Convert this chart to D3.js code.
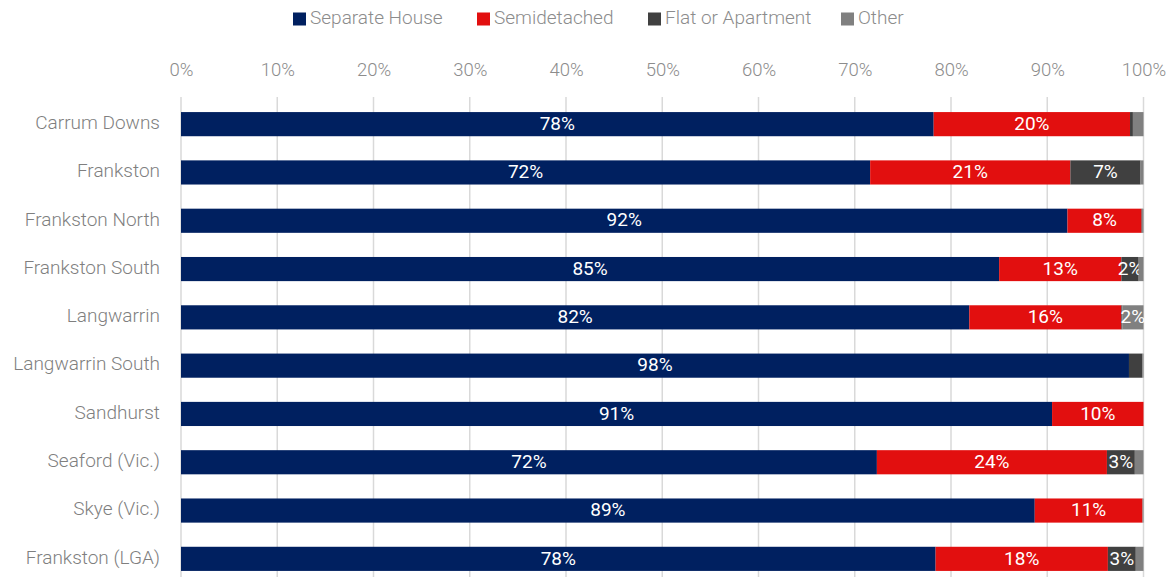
<!DOCTYPE html>
<html>
<head>
<meta charset="utf-8">
<script src="https://cdn.jsdelivr.net/npm/d3@7"></script>
<style>
  body { margin: 0; background: #fff; }
  text { font-family: Roboto, "Noto Sans", sans-serif; }
</style>
</head>
<body>
<div id="chart"></div>
<script>
// suburbs, top to bottom
var suburbs = ["Carrum Downs", "Frankston", "Frankston North", "Frankston South", "Langwarrin",
    "Langwarrin South", "Sandhurst", "Seaford (Vic.)", "Skye (Vic.)", "Frankston (LGA)"];

// share of dwellings, %
var separateHouse = [78.2, 71.6, 92.1, 85.0, 81.9, 98.49, 90.5, 72.3, 88.7, 78.4];
var semidetached  = [20.4, 20.8, 7.7, 12.7, 15.8, 0.0, 9.5, 23.9, 11.2, 17.9];
var flatApartment = [0.3, 7.3, 0.1, 1.8, 0.1, 1.4, 0.0, 2.9, 0.0, 2.9];
var other         = [1.1, 0.3, 0.1, 0.5, 2.2, 0.11, 0.0, 0.9, 0.1, 0.8];

var seriesNames = ["Separate House", "Semidetached", "Flat or Apartment", "Other"];
var seriesColors = ["#002060", "#E20F0F", "#404040", "#808080"];
var ticks = [0, 10, 20, 30, 40, 50, 60, 70, 80, 90, 100];

var W = 1172, H = 577;
var margin = { top: 100, right: 28, bottom: -6, left: 181 };

var svg = d3.select("#chart").append("svg")
    .attr("width", W)
    .attr("height", H);

//scales
var x = d3.scaleLinear()
    .domain([0, 100])
    .range([margin.left, W - margin.right - 0.5]);

var y = d3.scaleBand()
    .domain(suburbs)
    .range([margin.top, H - margin.bottom])
    .paddingInner(0.5)
    .paddingOuter(0.25);

//gridlines
svg.append("g")
    .selectAll("line")
    .data(ticks)
    .enter()
    .append("line")
    .attr("x1", d => x(d))
    .attr("x2", d => x(d))
    .attr("y1", 97)
    .attr("y2", H)
    .attr("stroke", "#d9d9d9")
    .attr("stroke-width", 1.5);

//top axis
var xAxis = svg.append("g")
    .attr("transform", "translate(0,70)")
    .call(d3.axisTop(x).tickValues(ticks).tickFormat(d => d + "%").tickSize(0));
xAxis.select(".domain").remove();
xAxis.selectAll("text")
    .attr("dy", "0.35em")
    .attr("y", 0)
    .style("font-size", "18.5px")
    .style("font-weight", 300)
    .attr("fill", "#8c8c8c");

//left axis
var yAxis = svg.append("g")
    .attr("transform", "translate(160,0)")
    .call(d3.axisLeft(y).tickSize(0));
yAxis.select(".domain").remove();
yAxis.selectAll("text")
    .attr("x", 0)
    .attr("dy", "0.25em")
    .style("font-size", "19px")
    .style("font-weight", 300)
    .attr("fill", "#7f7f7f");

//stack
var rows = suburbs.map(function (s, i) {
    return { suburb: s, s0: separateHouse[i], s1: semidetached[i], s2: flatApartment[i], s3: other[i] };
});
var stacked = d3.stack().keys(["s0", "s1", "s2", "s3"])(rows);

var layer = svg.selectAll(".layer")
    .data(stacked)
    .enter()
    .append("g")
    .attr("fill", (d, i) => seriesColors[i]);

layer.selectAll("rect")
    .data(d => d)
    .enter()
    .append("rect")
    .attr("x", d => x(d[0]))
    .attr("y", d => y(d.data.suburb))
    .attr("width", d => x(d[1]) - x(d[0]))
    .attr("height", y.bandwidth());

//value labels
layer.selectAll("text")
    .data(d => d.filter(p => Math.round(p[1] - p[0]) >= 2))
    .enter()
    .append("text")
    .attr("x", d => (x(d[0]) + x(d[1])) / 2)
    .attr("y", d => y(d.data.suburb) + y.bandwidth() / 2)
    .attr("dy", "0.3em")
    .attr("text-anchor", "middle")
    .attr("fill", "#fff")
    .style("font-size", "19px")
    .text(d => Math.round(d[1] - d[0]) + "%");

//legend
var legendX = [293, 477, 648, 841];
var legend = svg.selectAll(".legend")
    .data(seriesNames)
    .enter()
    .append("g")
    .attr("transform", (d, i) => "translate(" + legendX[i] + ",12.5)");
legend.append("rect")
    .attr("width", 13)
    .attr("height", 13)
    .attr("fill", (d, i) => seriesColors[i]);
legend.append("text")
    .attr("x", 17)
    .attr("y", 6.5)
    .attr("dy", "0.25em")
    .style("font-size", "19px")
    .style("font-weight", 300)
    .attr("fill", "#8c8c8c")
    .text(d => d);
</script>
</body>
</html>
